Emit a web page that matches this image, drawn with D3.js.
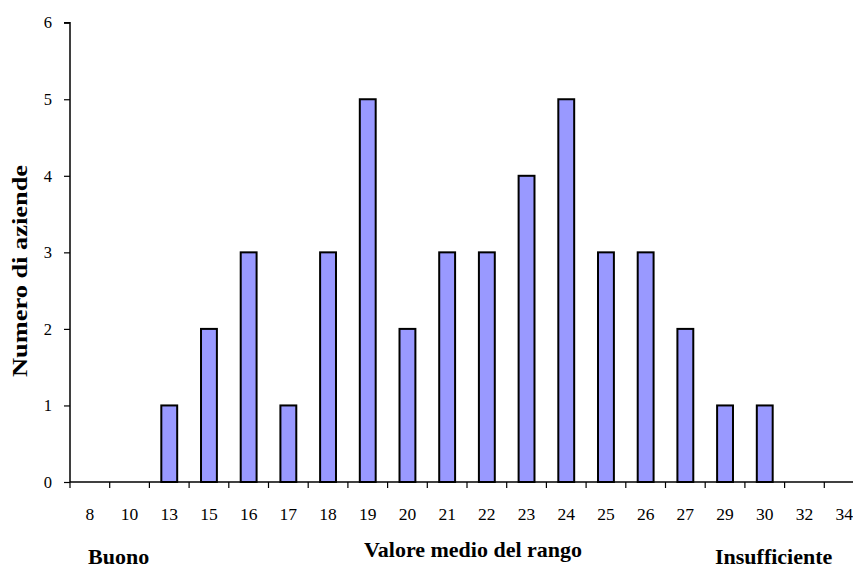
<!DOCTYPE html>
<html>
<head>
<meta charset="utf-8">
<script src="https://cdn.jsdelivr.net/npm/d3@7"></script>
<style>
  html, body { margin: 0; padding: 0; background: #ffffff; }
  svg { display: block; }
  text { font-family: "Liberation Serif", "Times New Roman", serif; fill: #000; }
</style>
</head>
<body>
<svg id="chart" width="853" height="570"></svg>
<script>
const categories = ["8","10","13","15","16","17","18","19","20","21","22","23","24","25","26","27","29","30","32","34"];
const values = [0,0,1,2,3,1,3,5,2,3,3,4,5,3,3,2,1,1,0,0];
const yTicks = [0,1,2,3,4,5,6];
const yTitle = "Numero di aziende";
const xTitle = "Valore medio del rango";
const leftNote = "Buono";
const rightNote = "Insufficiente";

(function () {
const svg = d3.select("#chart");
const mLeft = 70, mRight = 864, mTop = 22.7, mBottom = 482;

const xb = d3.scaleBand().domain(categories).range([mLeft, mRight]).padding(0);
const x = d3.scaleBand().domain(categories).range([mLeft, mRight]).paddingInner(0.6).paddingOuter(0.3);
const y = d3.scaleLinear().domain([0, 6]).range([mBottom, mTop]);

// bars
svg.append("g").selectAll("rect")
  .data(values.map((v, i) => ({c: categories[i], v})).filter(d => d.v > 0))
  .join("rect")
  .attr("x", d => x(d.c))
  .attr("y", d => y(d.v))
  .attr("width", x.bandwidth())
  .attr("height", d => y(0) - y(d.v))
  .attr("fill", "#9999ff")
  .attr("stroke", "#000")
  .attr("stroke-width", 2);

// y axis
const yAxis = svg.append("g").attr("transform", `translate(${mLeft},0)`)
  .call(d3.axisLeft(y).tickValues(yTicks).tickFormat(d3.format("d")).tickSize(6).tickPadding(12));
yAxis.select(".domain").attr("stroke", "#000").attr("stroke-width", 1.5).attr("d", `M-6,${mTop}H0V${mBottom}`);
yAxis.selectAll(".tick line").attr("stroke", "#000").attr("stroke-width", 1.2);
yAxis.selectAll(".tick text").attr("font-family", "Liberation Serif").attr("font-size", 16.5);

// x axis line
svg.append("line").attr("x1", mLeft).attr("x2", mRight).attr("y1", mBottom).attr("y2", mBottom)
  .attr("stroke", "#000").attr("stroke-width", 1.5);

// x boundary ticks
const bounds = categories.map(c => xb(c)).concat([xb(categories[categories.length - 1]) + xb.bandwidth()]);
svg.append("g").selectAll("line").data(bounds).join("line")
  .attr("x1", d => d).attr("x2", d => d)
  .attr("y1", mBottom).attr("y2", mBottom + 6)
  .attr("stroke", "#000").attr("stroke-width", 1.2);

// x labels
const xAxis = svg.append("g").attr("transform", `translate(0,${mBottom})`)
  .call(d3.axisBottom(xb).tickSize(0).tickPadding(26));
xAxis.select(".domain").remove();
xAxis.selectAll(".tick text").attr("font-family", "Liberation Serif").attr("font-size", 17.5);

// titles
svg.append("text")
  .attr("transform", `translate(27,271) rotate(-90) scale(1.2,1)`)
  .attr("text-anchor", "middle")
  .style("font-size", "22px").style("font-weight", "bold")
  .text(yTitle);

svg.append("text")
  .attr("x", 473).attr("y", 557)
  .attr("text-anchor", "middle")
  .style("font-size", "22px").style("font-weight", "bold")
  .text(xTitle);

svg.append("text")
  .attr("x", 88).attr("y", 564)
  .style("font-size", "22px").style("font-weight", "bold")
  .text(leftNote);

svg.append("text")
  .attr("x", 715).attr("y", 564)
  .style("font-size", "22px").style("font-weight", "bold")
  .text(rightNote);
})();
</script>
</body>
</html>
